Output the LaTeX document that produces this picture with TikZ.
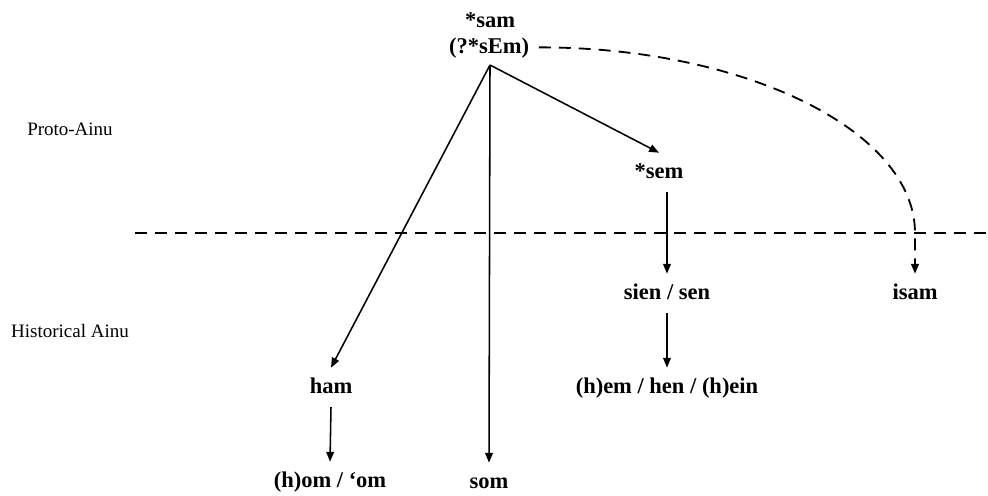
\documentclass[tikz,border=0pt]{standalone}
\usepackage{fontspec}
\setmainfont{Liberation Serif}
\usepackage{tikz}
\usetikzlibrary{arrows.meta,positioning,calc}
\tikzstyle{arrow} = [line width=1.1pt,-{Triangle[length=7pt,width=5.5pt]}]
\tikzstyle{dasharrow} = [line width=1.3pt,dash pattern=on 8.5pt off 5.7pt,-{Triangle[length=7pt,width=5.5pt]}]
\tikzstyle{divider} = [line width=1.3pt,dash pattern=on 8.5pt off 5.7pt]
\tikzstyle{word} = [font=\bfseries\fontsize{16}{18}\selectfont, anchor=base, inner sep=0pt, outer sep=7pt, text height=11pt, text depth=3pt]
\tikzstyle{period} = [font=\fontsize{13.5}{15}\selectfont, anchor=base]

\begin{document}
\begin{tikzpicture}[x=0.025cm, y=-0.025cm]
    \useasboundingbox (0,0) rectangle (988,495);
    % stages
    \node[period] (proto) at (70,135) {Proto-Ainu};
    \node[period] (hist) at (70,337) {Historical Ainu};
    \coordinate (divL) at (135,233);
    \coordinate (divR) at (988,233);
    \draw[divider] (divL) -- (divR);
    % forms
    \node[word] (sam) at (490,27) {*sam};
    \node[word] (samalt) at (489,53) {(?*sEm)};
    \coordinate (fork) at (490,65);
    \node[word] (sem) at (659,178) {*sem};
    \node[word] (sien) at (667,299) {sien / sen};
    \node[word] (hem) at (667,393) {(h)em / hen / (h)ein};
    \node[word] (ham) at (331,393) {ham};
    \node[word] (hom) at (330,487) {(h)om / ‘om};
    \node[word] (som) at (489,488) {som};
    \node[word] (isam) at (915,299) {isam};
    % changes
    \draw[arrow] (fork) -- (ham.north);
    \draw[arrow] (fork) -- (som.north);
    \draw[arrow] (fork) -- (sem.north);
    \draw[arrow] (sem.south -| sien.north) -- (sien.north);
    \draw[arrow] (sien.south) -- (hem.north);
    \draw[arrow] (ham.south) -- (hom.north);
    \coordinate (bend) at (isam.north |- divL);
    \draw[dasharrow] (samalt.east) .. controls (743,47) and (915,130) .. (bend) -- (isam.north);
\end{tikzpicture}
\end{document}
